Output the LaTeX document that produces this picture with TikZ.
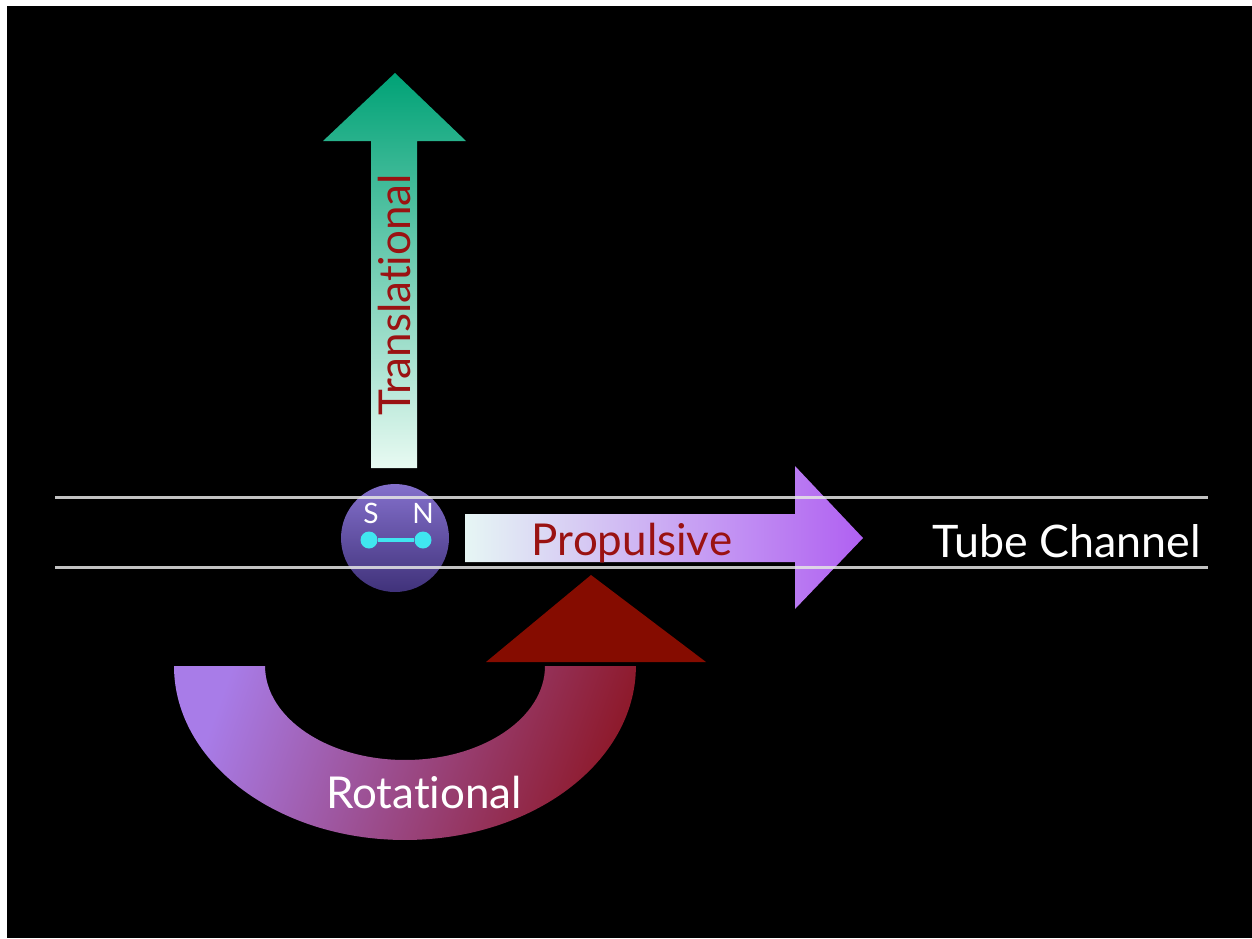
\documentclass[tikz,border=0pt]{standalone}
\usepackage{fontspec}
\setmainfont{Lato}[Ligatures={NoCommon,NoContextual}]
\definecolor{transgreen}{HTML}{00A276}
\definecolor{transpale}{HTML}{E8FAF2}
\definecolor{proppale}{HTML}{E6F6F4}
\definecolor{proppurple}{HTML}{B060F2}
\definecolor{labelred}{HTML}{9A1212}
\definecolor{ballhi}{HTML}{8470CC}
\definecolor{balllo}{HTML}{40327A}
\definecolor{magnet}{HTML}{40E6F0}
\definecolor{rotpurple}{HTML}{A87CE8}
\definecolor{rotred}{HTML}{8E1A2C}
\definecolor{rothead}{HTML}{850C00}

\begin{document}
\begin{tikzpicture}[x=0.02cm, y=-0.02cm,
		tube/.style={white!90!black, line width=1.7pt, opacity=0.85},
		motion/.style={text=labelred, font=\fontsize{25}{30}\selectfont, inner sep=0pt},
		caption/.style={text=white, font=\fontsize{25}{30}\selectfont, inner sep=0pt},
		pole/.style={text=white, font=\fontsize{16}{18}\selectfont, inner sep=0pt, anchor=base},
		dot/.style={circle, fill=magnet, minimum size=0.34cm, inner sep=0pt}]
		\fill[white] (0,0) rectangle (1252,938);
		\fill[black] (7,6) rectangle (1252,938);
		\useasboundingbox (0,0) rectangle (1252,938);

		% translational
		\shade[top color=transgreen, bottom color=transpale] (371,468) -- (371,141) -- (323,141) -- (395,73) -- (466,141) -- (417,141) -- (417,468) -- cycle;
		\node[motion, rotate=90, anchor=base] (trans) at (410,295) {Translational};

		% propulsive
		\shade[left color=proppale, right color=proppurple] (465,514) -- (795,514) -- (795,466) -- (863,538) -- (795,609) -- (795,562) -- (465,562) -- cycle;
		\node[motion, anchor=base] (prop) at (632,555) {Propulsive};

		% rotational
		\shade[left color=rotpurple, right color=rotred, shading angle=70] (174,666) arc[start angle=180, end angle=360, x radius=4.62cm, y radius=3.48cm] -- (545,666) arc[start angle=0, end angle=-180, x radius=2.8cm, y radius=1.88cm] -- cycle;
		\fill[rothead] (486,662) -- (706,662) -- (591,575) -- cycle;
		\node[caption, anchor=base] (rot) at (424,808) {Rotational};

		% magnet
		\node[circle, minimum size=2.16cm, inner sep=0pt, top color=ballhi, bottom color=balllo] (ball) at (395,538) {};
		\node[dot] (south) at (369,540) {};
		\node[dot] (north) at (423,540) {};
		\draw[magnet, line width=2pt] (south) -- (north);
		\node[pole] (s) at (371,523) {S};
		\node[pole] (n) at (423,523) {N};

		% tube channel
		\draw[tube] (55,497) -- (1208,497);
		\draw[tube] (55,567) -- (1208,567);
		\node[caption, anchor=base, font=\fontsize{25.5}{30}\selectfont] (channel) at (1067,557) {Tube Channel};
	\end{tikzpicture}
\end{document}
